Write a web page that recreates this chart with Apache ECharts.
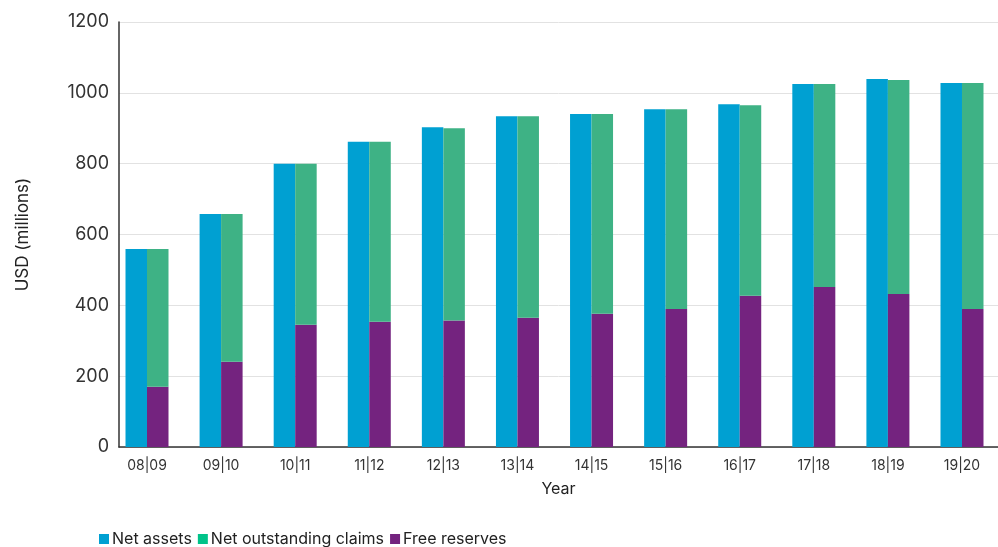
<!DOCTYPE html>
<html><head><meta charset="utf-8">
<script src="https://cdn.jsdelivr.net/npm/echarts@6/dist/echarts.min.js"></script>
<style>html,body{margin:0;padding:0;background:#fff}#c{width:998px;height:547px}</style></head>
<body><div id="c"></div>
<script>
const categories = ['08|09','09|10','10|11','11|12','12|13','13|14','14|15','15|16','16|17','17|18','18|19','19|20'];
const netAssets = [559, 658, 800, 862, 903, 934, 940, 954, 968, 1025, 1039, 1028];
const netOutstandingClaims = [389, 417, 455, 508, 543, 569, 564, 564, 538, 573, 604, 638];
const freeReserves = [170, 241, 345, 354, 357, 365, 376, 390, 427, 452, 432, 390];
const yTicks = [0, 200, 400, 600, 800, 1000, 1200];

const FONT = 'Inter, "Liberation Sans", Arial, sans-serif';
const idx = categories.map((c, i) => i);
// value first, category index second (so the value dimension is the stacked one)
const toPts = arr => arr.map((v, i) => [v, i]);

const chart = echarts.init(document.getElementById('c'), null, {renderer: 'canvas'});
chart.setOption({
  animation: false,
  textStyle: {fontFamily: FONT},
  grid: {left: 119, right: 0, top: 22, bottom: 100, containLabel: false},
  legend: {
    left: 94, top: 526, icon: 'rect', itemWidth: 10, itemHeight: 10, itemGap: 6,
    textStyle: {fontSize: 16, color: '#222', fontFamily: FONT, padding: [0, 0, 0, -2]},
    data: [
      {name: 'Net assets'},
      {name: 'Net outstanding claims', itemStyle: {color: '#00c389'}},
      {name: 'Free reserves'}
    ]
  },
  xAxis: {
    type: 'value',
    min: -0.378, max: 11.486,
    name: 'Year', nameLocation: 'middle', nameGap: 34,
    nameTextStyle: {fontSize: 16, color: '#222', fontFamily: FONT},
    axisLine: {show: true, onZero: false, lineStyle: {color: '#333', width: 1.5}},
    axisTick: {show: false},
    splitLine: {show: false},
    axisLabel: {
      customValues: idx, margin: 12, fontSize: 14, color: '#333', fontFamily: FONT,
      formatter: v => categories[Math.round(v)]
    }
  },
  yAxis: {
    type: 'value', min: yTicks[0], max: yTicks[yTicks.length - 1], interval: 200,
    name: 'USD (millions)', nameLocation: 'middle', nameGap: 88, nameRotate: 90,
    nameTextStyle: {fontSize: 17, color: '#222', fontFamily: FONT},
    axisLine: {show: true, onZero: false, lineStyle: {color: '#333', width: 1.5}},
    axisTick: {show: false},
    axisLabel: {margin: 10, fontSize: 18, color: '#333', fontFamily: FONT, formatter: v => String(v)},
    splitLine: {show: true, lineStyle: {color: '#e2e2e2', width: 1}}
  },
  series: [
    {name: 'Net assets', type: 'bar', data: toPts(netAssets), encode: {x: 1, y: 0},
     barWidth: 21.5, barGap: '0%', itemStyle: {color: '#00a0d2'}},
    {name: 'Free reserves', type: 'bar', stack: 'b', data: toPts(freeReserves), encode: {x: 1, y: 0},
     barWidth: 21.5, barGap: '0%', itemStyle: {color: '#74237f'}},
    {name: 'Net outstanding claims', type: 'bar', stack: 'b', data: toPts(netOutstandingClaims), encode: {x: 1, y: 0},
     barWidth: 21.5, barGap: '0%', itemStyle: {color: '#3eb285'}}
  ]
});
</script></body></html>
